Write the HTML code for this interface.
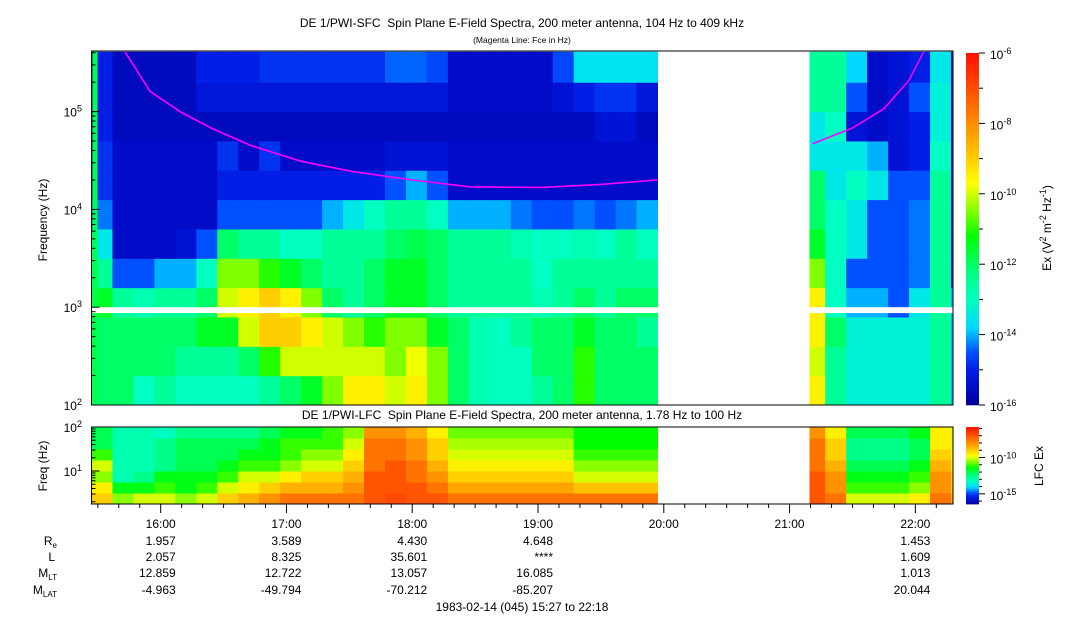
<!DOCTYPE html>
<html><head><meta charset="utf-8">
<style>
html,body{margin:0;padding:0;background:#fff;}
svg{display:block;font-family:"Liberation Sans",sans-serif;}
</style></head>
<body>
<svg id="chart" width="1083" height="620" viewBox="0 0 1083 620" xmlns="http://www.w3.org/2000/svg">
<text x="522" y="27" font-size="12" text-anchor="middle">DE 1/PWI-SFC&#160; Spin Plane E-Field Spectra, 200 meter antenna, 104 Hz to 409 kHz</text>
<text x="522" y="43" font-size="8.5" text-anchor="middle">(Magenta Line: Fce in Hz)</text>
<text x="522" y="419" font-size="12" text-anchor="middle">DE 1/PWI-LFC&#160; Spin Plane E-Field Spectra, 200 meter antenna, 1.78 Hz to 100 Hz</text>
<text x="0" y="0" font-size="12" text-anchor="middle" transform="translate(47,220) rotate(-90)">Frequency (Hz)</text>
<text x="0" y="0" font-size="12" text-anchor="middle" transform="translate(47,466) rotate(-90)">Freq (Hz)</text>
<text x="0" y="0" font-size="12" text-anchor="middle" transform="translate(1051,228) rotate(-90)">Ex (V<tspan dy="-5" font-size="9">2</tspan><tspan dy="5"> m</tspan><tspan dy="-5" font-size="9">-2</tspan><tspan dy="5"> Hz</tspan><tspan dy="-5" font-size="9">-1</tspan><tspan dy="5">)</tspan></text>
<text x="0" y="0" font-size="12" text-anchor="middle" transform="translate(1043,466) rotate(-90)">LFC Ex</text>
<text x="522" y="611" font-size="12" text-anchor="middle">1983-02-14 (045) 15:27 to 22:18</text>
<g id="ephem-labels" font-size="12" text-anchor="end">
<text x="57" y="545">R<tspan font-size="8" dy="3">e</tspan></text>
<text x="55" y="561">L</text>
<text x="57" y="577">M<tspan font-size="8" dy="3">LT</tspan></text>
<text x="57" y="594">M<tspan font-size="8" dy="3">LAT</tspan></text>
</g>
</svg>
<script>
// ---- data ----
const colTimes = [0,10,20,30,40,50,60,70,80,90,100,110,120,130,140,150,160,170,180,190,200,210,220,230,240,250,260,270,280,290,300,310,320,330,340,350,360,370,380,390,400,410];
const N = null;
const topRow0 = [-12,-12,-13,-12.5,-13,-13,-13,-13,-12.5,-12,-11.5,-10.5,-9.5,-9.5,-10,-9.5,-10.5,-12,-12.8,-13,-13,-12.5,-12,-11,-12,-12,-12,N,N,N,N,N,N,N,-9.5,-12.5,-13.3,-13.3,-13.3,-13.3,-12.5,-14];
const topRow1 = [-12,-12,-12,-12,-12.5,-12.5,-12.5,-12,-11,-10,-10,-10,-10,-10,-10.5,-9.8,-10.5,-12,-12.8,-13,-13,-12,-12,-11,-12,-12,-12,N,N,N,N,N,N,N,-10,-12.5,-13.3,-13.3,-13.3,-13.3,-12.5,-14];
const topRow2 = [-12,-12,-12,-12,-12,-11.5,-11.5,-10,-9,-9,-9.5,-10,-10.5,-11,-10.5,-10.5,-11.5,-12,-12.8,-13,-12.5,-12,-12,-11.5,-12,-12,-12.5,N,N,N,N,N,N,N,-9.5,-12,-13.3,-13.3,-13.3,-13.3,-12.5,-14];
const topRow3 = [-11.5,-12.5,-12.8,-12.5,-12.5,-12,-10,-9.5,-9,-9.5,-10.5,-12,-12.5,-12,-11.5,-11.5,-12,-12.5,-12.5,-12.5,-12.5,-12.8,-12.5,-12,-12.5,-12,-12,N,N,N,N,N,N,N,-9.5,-13,-14,-14,-14.5,-13.5,-12.5,-14];
const topRow4 = [-12.5,-14.5,-14.5,-14,-14,-13,-10.5,-10.5,-11,-11.5,-12,-12.5,-12.5,-12,-11.5,-11.5,-12,-12.5,-12.5,-12.5,-12.5,-13,-12.5,-12.5,-12.5,-12.5,-12.5,N,N,N,N,N,N,N,-10.5,-13,-14.5,-14.5,-14.5,-14.3,-12.5,-15];
const topRow5 = [-13.5,-15.5,-15.5,-15.5,-15.3,-14.5,-12,-12.5,-12.5,-13,-13,-12.5,-12.5,-12.5,-12,-11.8,-12,-12.5,-12.5,-12.5,-12.8,-13,-13,-12.8,-13,-12.5,-13,N,N,N,N,N,N,N,-11.5,-13,-13.5,-14.5,-14.5,-14.3,-12.5,-15];
const topRow6 = [-14.3,-15.5,-15.5,-15.5,-15.5,-15.5,-14.5,-14.5,-14.5,-14.5,-14.5,-14,-13.5,-13,-12.5,-12.5,-13,-14,-14,-14,-14.3,-14.5,-14.5,-14.3,-14.5,-14.3,-14,N,N,N,N,N,N,N,-12,-13,-13.5,-14.5,-14.5,-14.3,-12.5,-15];
const topRow7 = [-14.8,-15.5,-15.5,-15.5,-15.5,-15.5,-15,-15,-15,-15,-15,-15,-15,-15,-14.5,-14,-14.5,-15.5,-15.5,-15.5,-15.5,-15.5,-15.5,-15.5,-15.5,-15.5,-15.5,N,N,N,N,N,N,N,-12,-13.5,-13,-13.5,-14.5,-14.5,-12.5,-15];
const topRow8 = [-14.8,-15.5,-15.5,-15.5,-15.5,-15.5,-14.8,-15.5,-14.8,-15.5,-15.5,-15.5,-15.5,-15.5,-15.3,-15.3,-15.3,-15.5,-15.5,-15.5,-15.5,-15.5,-15.5,-15.5,-15.5,-15.5,-15.5,N,N,N,N,N,N,N,-13.5,-13.5,-13.5,-14,-15.3,-15,-13,-15.3];
const topRow9 = [-15,-15.6,-15.6,-15.6,-15.6,-15.6,-15.6,-15.6,-15.6,-15.6,-15.6,-15.6,-15.6,-15.6,-15.6,-15.6,-15.6,-15.6,-15.6,-15.6,-15.6,-15.6,-15.6,-15.6,-15.3,-15.3,-15.6,N,N,N,N,N,N,N,-13.5,-13,-15.3,-15.5,-15.3,-15,-13.3,-15.3];
const topRow10 = [-15,-15.6,-15.6,-15.6,-15.6,-15.2,-15.2,-15.2,-15.2,-15.2,-15.2,-15.2,-15.2,-15.2,-15.2,-15.2,-15.2,-15.5,-15.5,-15.5,-15.5,-15.5,-15.3,-15,-14.8,-14.8,-15.2,N,N,N,N,N,N,N,-12.5,-12.5,-14.5,-15.5,-15.3,-14.5,-13.3,-15.3];
const topRow11 = [-15,-15.6,-15.6,-15.6,-15.6,-15,-15,-15,-14.8,-14.8,-14.8,-14.8,-14.8,-14.8,-14.4,-14.4,-14.6,-15.5,-15.5,-15.5,-15.5,-15.5,-14.6,-13.6,-13.6,-13.6,-13.6,N,N,N,N,N,N,N,-12.5,-12.5,-13.8,-15.5,-15.3,-15,-13.5,-15.3];
const lowRow0 = [-9,-10.5,-10,-10,-10.5,-10,-9,-8.5,-8,-7.5,-7.5,-7.5,-7.5,-7,-6.8,-7,-7,-7.5,-7.5,-7.5,-7.5,-7.5,-7.5,-7.5,-7.5,-7.5,-7.5,N,N,N,N,N,N,N,-7,-7.5,-10,-10,-10,-9.5,-7.5,-8.5];
const lowRow1 = [-9.5,-11.5,-11.5,-11,-11.5,-11,-10,-9.5,-9,-8.5,-8.5,-8.5,-8,-7,-7,-7,-7.5,-8.3,-8.3,-8.3,-8.3,-8.3,-8.3,-8.8,-8.8,-8.8,-8.8,N,N,N,N,N,N,N,-7,-8,-11,-11,-11,-10.5,-8,-9];
const lowRow2 = [-10.5,-13,-12.5,-11.5,-11.5,-11.5,-11,-10,-10,-9.5,-9,-9,-8.5,-7,-7,-7.5,-8,-9,-9,-9,-9,-9,-9,-10,-10,-10,-10,N,N,N,N,N,N,N,-7,-8,-11.5,-11.5,-11.5,-11,-8,-9];
const lowRow3 = [-10,-13,-13,-12.5,-12,-12,-11.5,-11,-11,-10.5,-10,-10,-9,-7.5,-7,-7.5,-8.5,-9.5,-9.5,-9.5,-9.5,-9.5,-9.5,-10.5,-10.5,-10.5,-10.5,N,N,N,N,N,N,N,-7.5,-8.5,-12,-12,-12,-11.5,-8.5,-9.5];
const lowRow4 = [-11,-13,-13,-12.5,-12,-12,-12,-11.5,-11.5,-11,-10.5,-10.5,-9.5,-7.5,-7.5,-8,-9,-10,-10,-10,-10,-10,-10,-11,-11,-11,-11,N,N,N,N,N,N,N,-7.5,-9,-12.5,-12.5,-12.5,-12,-9,-9.5];
const lowRow5 = [-12,-13,-13,-12.5,-12,-12,-12,-12,-11.5,-11,-11,-11,-10,-7.5,-7.5,-8,-9,-10.3,-10.3,-10.3,-10.3,-10.3,-10.3,-11.3,-11.3,-11.3,-11.3,N,N,N,N,N,N,N,-7.5,-9,-12.5,-12.5,-12.5,-12,-9.5,-10];
const lowRow6 = [-12,-13,-13,-13.2,-12.5,-12.5,-12.5,-12.5,-12,-11.5,-11.5,-11,-10.5,-8,-8,-8.5,-9.5,-10.7,-10.7,-10.7,-10.7,-10.7,-10.7,-11.3,-11.3,-11.3,-11.3,N,N,N,N,N,N,N,-8,-9.5,-12,-12,-12,-11.5,-9.5,-10];
const topRows = [topRow0,topRow1,topRow2,topRow3,topRow4,topRow5,topRow6,topRow7,topRow8,topRow9,topRow10,topRow11];
const lowRows = [lowRow0,lowRow1,lowRow2,lowRow3,lowRow4,lowRow5,lowRow6];
const topBandLogStart = [2.0,2.3,2.6,2.9,3.2,3.5,3.8,4.1,4.4,4.7,5.0,5.3];
const topBandLogEnd = [2.3,2.6,2.9,3.2,3.5,3.8,4.1,4.4,4.7,5.0,5.3,5.612];
const lowBandLogStart = [0.25,0.5,0.75,1.0,1.25,1.5,1.75];
const lowBandLogEnd = [0.5,0.75,1.0,1.25,1.5,1.75,2.0];
const fceTimes = [16,28,43,57,76,100,124,153,181,215,243,270];
const fceValues = [409000,160000,98000,68000,45000,31000,24500,20000,17000,16800,18000,20000];
const fceTimes2 = [344,363,378,390,397];
const fceValues2 = [47000,68000,107000,210000,409000];
const gapStart = 270.5, gapEnd = 342.5;
const hourLabels = ["16:00","17:00","18:00","19:00","20:00","21:00","22:00"];
const hourTimes = [33,93,153,213,273,333,393];
const reValues = ["1.957","3.589","4.430","4.648","","","1.453"];
const lValues = ["2.057","8.325","35.601","****","","","1.609"];
const mltValues = ["12.859","12.722","13.057","16.085","","","1.013"];
const mlatValues = ["-4.963","-49.794","-70.212","-85.207","","","20.044"];
const topCbarTicks = [-6,-8,-10,-12,-14,-16];
const lowCbarTicks = [-10,-15];

// ---- geometry ----
const X0=91.5, PXM=2.0963, XR=953;
const TOP_Y0=405, DEC=97.8, TOP_Y1=51;
const LOW_Y1=427, LOW_Y0=504, LDEC=44;
const xOf = t => X0 + t*PXM;
const yTop = lg => TOP_Y0 - (lg-2)*DEC;
const yLow = lg => LOW_Y1 + (2-lg)*LDEC;
const TOP_MIN=-16, TOP_MAX=-6, LOW_MIN=-16.4, LOW_MAX=-5.8;

const stops=[[0,[0,0,150]],[0.05,[0,12,200]],[0.1,[0,30,230]],[0.15,[0,80,255]],[0.22,[0,216,255]],[0.3,[0,255,192]],[0.38,[0,255,128]],[0.48,[0,255,0]],[0.55,[128,255,0]],[0.63,[255,255,0]],[0.72,[255,192,0]],[0.82,[255,128,0]],[0.92,[255,64,0]],[1,[255,16,0]]];
function cmap(f){f=Math.max(0,Math.min(1,f));for(let i=1;i<stops.length;i++){if(f<=stops[i][0]){const a=stops[i-1],b=stops[i];const u=(f-a[0])/(b[0]-a[0]);const c=a[1].map((v,k)=>Math.round(v+(b[1][k]-v)*u));return `rgb(${c[0]},${c[1]},${c[2]})`;}}return 'rgb(255,16,0)';}

const svg=document.getElementById('chart');
const NS='http://www.w3.org/2000/svg';
function mk(tag,attrs,parent){const e=document.createElementNS(NS,tag);for(const k in attrs)e.setAttribute(k,attrs[k]);(parent||svg).appendChild(e);return e;}

const defs=mk('defs',{});
const cp1=mk('clipPath',{id:'clipTop'},defs);mk('rect',{x:X0,y:TOP_Y1,width:XR-X0,height:TOP_Y0-TOP_Y1},cp1);
const cp2=mk('clipPath',{id:'clipLow'},defs);mk('rect',{x:X0,y:LOW_Y1,width:XR-X0,height:LOW_Y0-LOW_Y1},cp2);

const gTop=mk('g',{'clip-path':'url(#clipTop)'});


topRows.forEach((row,r)=>{row.forEach((v,c)=>{if(v===null)return;
 const x1=xOf(colTimes[c]),x2=xOf(colTimes[c]+10);
 const y1=yTop(topBandLogEnd[r]),y2=yTop(topBandLogStart[r]);
 const e=mk('rect',{x:x1,y:y1,width:x2-x1+0.5,height:y2-y1+0.5,fill:cmap((v-TOP_MIN)/(TOP_MAX-TOP_MIN))},gTop);
 
 
});});
const stripe=mk('rect',{x:xOf(0.5),y:TOP_Y1,width:5,height:TOP_Y0-TOP_Y1,fill:cmap(0.42)},gTop);


const strip=mk('rect',{x:X0,y:yTop(3.0),width:XR-X0,height:yTop(2.94)-yTop(3.0),fill:'#fff'},gTop);


const gap1=mk('rect',{x:xOf(gapStart),y:TOP_Y1,width:xOf(gapEnd)-xOf(gapStart),height:TOP_Y0-TOP_Y1,fill:'#fff'},gTop);


function fcePath(ts,vs){return ts.map((t,i)=>(i?'L':'M')+xOf(t).toFixed(1)+','+yTop(Math.log10(vs[i])).toFixed(1)).join(' ');}
const fl1=mk('path',{d:fcePath(fceTimes,fceValues),fill:'none',stroke:'#ff00ff','stroke-width':1.6},gTop);


const fl2=mk('path',{d:fcePath(fceTimes2,fceValues2),fill:'none',stroke:'#ff00ff','stroke-width':1.6},gTop);


const f1=mk('rect',{x:X0,y:TOP_Y1,width:XR-X0,height:TOP_Y0-TOP_Y1,fill:'none',stroke:'#000','stroke-width':1});



const gLow=mk('g',{'clip-path':'url(#clipLow)'});


lowRows.forEach((row,r)=>{row.forEach((v,c)=>{if(v===null)return;
 const x1=xOf(colTimes[c]),x2=xOf(colTimes[c]+10);
 const y1=yLow(lowBandLogEnd[r]),y2=yLow(lowBandLogStart[r]);
 const e=mk('rect',{x:x1,y:y1,width:x2-x1+0.5,height:y2-y1+0.5,fill:cmap((v-LOW_MIN)/(LOW_MAX-LOW_MIN))},gLow);
 
 
});});
const gap2=mk('rect',{x:xOf(gapStart),y:LOW_Y1,width:xOf(gapEnd)-xOf(gapStart),height:LOW_Y0-LOW_Y1,fill:'#fff'},gLow);


const f2=mk('rect',{x:X0,y:LOW_Y1,width:XR-X0,height:LOW_Y0-LOW_Y1,fill:'none',stroke:'#000','stroke-width':1});



function line(x1,y1,x2,y2,name){const l=mk('line',{x1:x1,y1:y1,x2:x2,y2:y2,stroke:'#000','stroke-width':1});
 
 }
function powLabel(x,y,base,exp,name,anchor){const t=mk('text',{x:x,y:y,'font-size':12,'text-anchor':anchor});
 
 
 t.appendChild(document.createTextNode(base));const s=mk('tspan',{dy:-5,'font-size':9},t);s.textContent=exp;}
for(let d=2;d<=5;d++){for(let m=1;m<10;m++){const lg=d+Math.log10(m);if(lg>5.612)break;const y=yTop(lg);line(X0,y,X0+(m===1?8:4),y,'y-tick');}}
[2,3,4,5].forEach(d=>powLabel(82,yTop(d)+5,'10',String(d),'y-tick-label','end'));
for(let d=0;d<=2;d++){for(let m=1;m<10;m++){const lg=d+Math.log10(m);if(lg<0.25||lg>2)continue;const y=yLow(lg);line(X0,y,X0+(m===1?8:4),y,'lower-y-tick');}}
[1,2].forEach(d=>powLabel(82,yLow(d)+5,'10',String(d),'lower-y-tick-label','end'));
for(let t=3;t<=411;t+=10){const x=xOf(t);const major=((t-33)%60===0);line(x,LOW_Y0,x,LOW_Y0+(major?9:4),'x-tick');}
hourLabels.forEach((h,i)=>{const x=xOf(hourTimes[i])+15;
 const t=mk('text',{x:x,y:528,'font-size':12,'text-anchor':'end'});t.textContent=h;
 
 
 [[reValues,545],[lValues,561],[mltValues,577],[mlatValues,594]].forEach(([arr,yy])=>{if(!arr[i])return;
  const v=mk('text',{x:x,y:yy,'font-size':12,'text-anchor':'end'});v.textContent=arr[i];
  
  });
});

const CBX=966,CBW=13;
const cbY=v=>TOP_Y0-(v-TOP_MIN)/(TOP_MAX-TOP_MIN)*(TOP_Y0-53);
const gcb=mk('g',{});


for(let i=0;i<176;i++){const v=TOP_MIN+(i+0.5)/176*(TOP_MAX-TOP_MIN);const y=cbY(TOP_MIN+(i+1)/176*(TOP_MAX-TOP_MIN));
 const r=mk('rect',{x:CBX,y:y,width:CBW,height:2.3,fill:cmap((v-TOP_MIN)/(TOP_MAX-TOP_MIN))},gcb);
 
 }
for(let e=-16;e<=-6;e++){const y=cbY(e);line(CBX+CBW,y,CBX+CBW+(e%2===0?6:4),y,'colorbar-tick');}
topCbarTicks.forEach(e=>powLabel(990,cbY(e)+6,'10',String(e),'colorbar-tick-label','start'));
const cbY2=v=>LOW_Y0-(v-LOW_MIN)/(LOW_MAX-LOW_MIN)*(LOW_Y0-LOW_Y1);
const gcb2=mk('g',{});


for(let i=0;i<40;i++){const v=LOW_MIN+(i+0.5)/40*(LOW_MAX-LOW_MIN);const y=cbY2(LOW_MIN+(i+1)/40*(LOW_MAX-LOW_MIN));
 const r=mk('rect',{x:CBX,y:y,width:CBW,height:2.3,fill:cmap((v-LOW_MIN)/(LOW_MAX-LOW_MIN))},gcb2);
 
 }
for(let e=-16;e<=-6;e++){const y=cbY2(e);line(CBX+CBW,y,CBX+CBW+(e%5===0?6:3),y,'lower-colorbar-tick');}
lowCbarTicks.forEach(e=>powLabel(990,cbY2(e)+6,'10',String(e),'lower-colorbar-tick-label','start'));
</script>
</body></html>
